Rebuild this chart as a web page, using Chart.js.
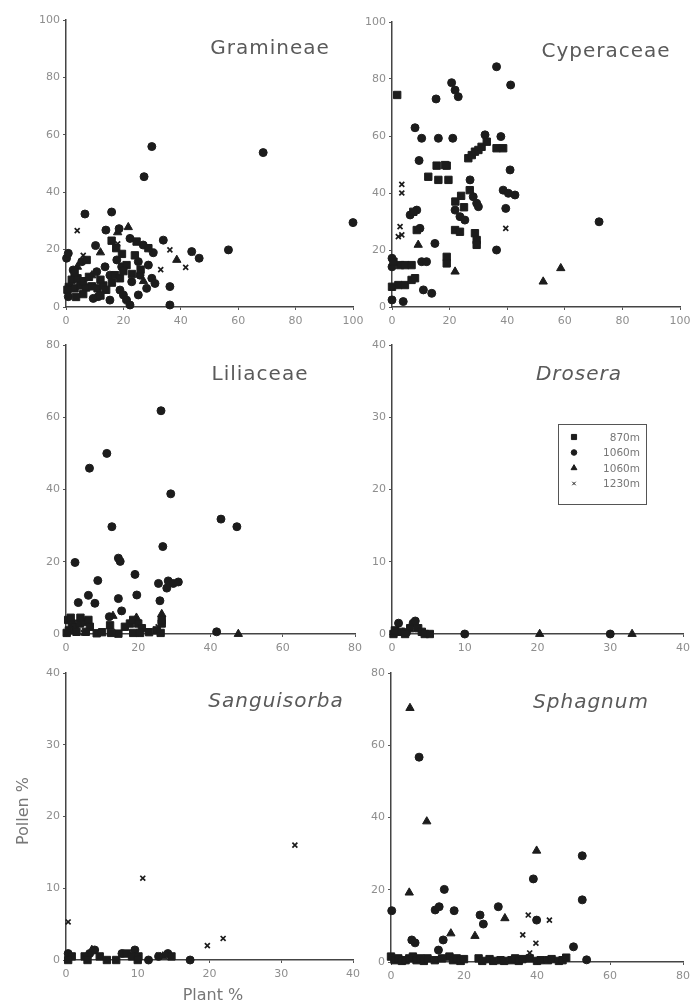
<!DOCTYPE html>
<html>
<head>
<meta charset="utf-8">
<script src="https://cdn.jsdelivr.net/npm/chart.js@4.4.1/dist/chart.umd.min.js"></script>
<style>
  html, body { margin: 0; padding: 0; background: #fff; }
  #wrap { position: relative; width: 694px; height: 1007px; overflow: hidden; }
  #wrap canvas { position: absolute; }
</style>
</head>
<body>
<div id="wrap"></div>
<script>
// series: 870m (square), 1060m (circle), 1060m (triangle), 1230m (cross)
const seriesLabels = ['870m', '1060m', '1060m', '1230m'];

// Gramineae  [plant %, pollen %]
const gramSquare = [[15.9,23.1],[17.5,20.5],[19.5,18.5],[24.6,22.8],[28.7,20.5],[21.1,14.6],[17.1,11.1],[18.8,10],[1,7],[3,6.5],[5,7.5],[7,6.8],[9,7.2],[11,6.5],[13,7.5],[2,9.5],[4,10],[6,9],[8,10.5],[12,9.5],[0.5,6],[3.5,3.5],[6,4.5],[14,6],[16,8.5],[20,12.5],[23,11.5],[12,4],[3,12],[7.2,16.4],[24,18],[26,13]];
const gramCircle = [[29.9,55.9],[27.2,45.4],[68.7,53.8],[100,29.4],[56.6,19.9],[6.6,32.4],[15.9,33.1],[13.9,26.8],[18.5,27.3],[10.3,21.4],[33.9,23.3],[30.4,18.9],[46.4,17],[36.2,7.1],[36.2,0.7],[0.2,17],[0.8,18.7],[5.5,15.8],[10.7,12.3],[17.7,16.4],[19.4,14],[25.2,15.8],[28.7,14.6],[25.8,11.1],[29.9,10],[31,8.2],[28.1,6.5],[25.2,4.2],[15.3,2.4],[9.5,3],[11.2,3.6],[18.8,5.9],[20,4.2],[21.1,2.4],[22.3,0.7],[2.5,12.9],[0.8,3.6],[15.3,11.1],[22.9,8.8],[13.6,14],[22.3,23.9],[26.9,21.6],[43.8,19.3]];
const gramTriangle = [[21.7,27.8],[38.6,16.4],[18,26],[12,19],[4,14],[9,11],[27,9]];
const gramCross = [[3.9,26.6],[36.2,19.9],[41.7,13.8],[44,18.9],[18,22],[33,13],[6,18]];

// Cyperaceae
const cypSquare = [[1.8,74.4],[15.5,49.6],[19,49.6],[12.6,45.7],[16.1,44.6],[19.6,44.6],[26.5,52.2],[27.7,53.3],[28.8,54.5],[30,55.1],[31.1,56.2],[32.9,58],[36.3,55.7],[38.6,55.7],[7.4,33.4],[8.6,27],[21.9,27],[23.6,26.4],[28.8,25.9],[29.4,23.5],[29.4,21.8],[2.8,14.7],[4.5,14.7],[6.8,14.7],[19,17.6],[19,15.3],[0,7.1],[2.2,7.7],[4.5,7.7],[6.8,9.5],[8,10.1],[0.5,15.9],[22,37],[24,39],[25,35],[27,41],[18.4,49.8]];
const cypCircle = [[36.3,84.3],[41.2,77.9],[20.7,78.7],[21.9,76.1],[23,73.8],[15.3,73],[8,62.9],[10.3,59.2],[16.1,59.2],[21.1,59.2],[32.3,60.4],[37.8,59.8],[9.4,51.4],[41,48.1],[27.1,44.6],[38.6,41],[40.4,39.9],[42.7,39.3],[39.5,34.6],[36.3,20],[71.9,29.9],[14.9,22.3],[10.3,15.9],[12,15.9],[0,17.1],[0,14.1],[10.9,6],[13.8,4.8],[0,2.5],[3.9,1.9],[6.3,32.3],[8.6,34],[21.9,34],[23.6,31.7],[25.3,30.5],[28.2,38.7],[29.4,36.4],[30,35.2],[9.7,27.6]];
const cypTriangle = [[9.1,21.8],[21.9,12.4],[52.5,8.9],[58.6,13.6]];
const cypCross = [[3.4,40],[3.4,43],[2.8,28.2],[3.4,25.3],[39.5,27.6],[2.2,24.7]];

// Liliaceae
const lilSquare = [[0.6,3.9],[1.6,2.9],[2.5,2],[3.9,2.9],[5.3,3.4],[6.2,3.9],[6.6,2],[0.8,1],[2.9,0.6],[5.5,0.6],[8.5,0.2],[12.2,2.4],[12.5,0.3],[14.5,0.1],[16.3,2],[17.7,2.9],[18.6,3.9],[18.6,0.3],[20,2.9],[21,1.6],[25.1,1],[26.5,2.9],[26.5,3.9],[26.2,0.3],[0.2,0.3],[1.3,4.5],[4,4.5],[10,0.5],[20.5,0.3],[23,0.5]];
const lilCircle = [[26.3,61.8],[11.3,50],[6.5,45.9],[29,38.8],[42.9,31.8],[47.3,29.7],[12.7,29.7],[26.8,24.2],[2.5,19.8],[14.5,21],[15,20.1],[19.1,16.5],[8.8,14.8],[25.6,14],[28.3,14.7],[29.7,14],[31.1,14.4],[27.9,12.7],[3.4,8.7],[6.2,10.7],[8,8.5],[14.5,9.8],[19.6,10.8],[26,9.2],[15.4,6.4],[12,4.8],[41.7,0.6]];
const lilTriangle = [[47.7,0],[26.5,5.5],[13,5],[19.5,4.5]];
const lilCross = [[25.5,2],[4.8,0.3]];

// Drosera
const droSquare = [[0.2,0],[0.4,0.5],[1.3,0.3],[2.5,0.8],[3.6,0.8],[4.1,0.3],[4.5,0],[5.2,0],[1.8,0]];
const droCircle = [[0.9,1.5],[2.9,1.5],[3.2,1.8],[10,0],[30,0],[2,0.2]];
const droTriangle = [[20.3,0],[33,0],[1.5,0.2]];
const droCross = [[2.6,1],[0.5,0.1]];

// Sanguisorba
const sanSquare = [[0.8,0.5],[2.6,0.5],[4.7,0.5],[5.7,0],[8.5,0.9],[9.2,0.5],[10.1,0.5],[14.7,0.5],[0.3,0],[3,0],[7,0],[10,0]];
const sanCircle = [[0.3,0.9],[3.3,0.9],[4,1.4],[7.8,0.9],[9.6,1.4],[14.2,0.9],[12.9,0.5],[17.3,0],[11.5,0]];
const sanTriangle = [[3.6,1.4],[13.5,0.5]];
const sanCross = [[31.9,16],[10.7,11.4],[19.7,2],[21.9,3],[0.3,5.3],[12.9,0.7]];

// Sphagnum
const sphSquare = [[0,1.5],[1,0.5],[2,1],[3,0.3],[4,0.5],[5,1],[6,1.5],[7,0.5],[8,1],[9,0.3],[10,1],[16,1.5],[17,0.5],[18,1],[19,0.3],[20,0.8],[24,1],[25,0.3],[27,0.8],[28,0.3],[30,0.5],[31,0.3],[33,0.5],[34,1],[35,0.3],[36,0.8],[40,0.3],[41,0.5],[43,0.5],[44,0.8],[46,0.3],[47,0.5],[48,1.2],[12,0.5],[14,1],[38,1]];
const sphCircle = [[7.7,56.7],[52.4,29.4],[39,23],[52.4,17.2],[14.6,20.1],[0.2,14.2],[12.1,14.4],[13.2,15.3],[17.3,14.2],[29.4,15.3],[24.4,13],[25.3,10.5],[39.9,11.6],[14.3,6.1],[5.7,6.1],[6.6,5.3],[50,4.2],[53.6,0.6],[13,3.3],[42,83.7]];
const sphTriangle = [[5.2,70.3],[9.8,38.9],[39.9,30.8],[5,19.2],[31.2,12.1],[16.4,7.9],[23,7.2]];
const sphCross = [[37.6,13],[43.4,11.6],[36.1,7.5],[39.7,5.2],[38,2.5]];

const pointStyles = ['rect', 'circle', 'triangle', 'crossRot'];
const pointRadii = [5.2, 4, 4.8, 3.5];
const ink = '#1c1c1c';

// box = canvas [left, top, width, height]; area = chart area [left, top, right, bottom] in page px
const panels = [
  { title: 'Gramineae', italic: false, sets: [gramSquare, gramCircle, gramTriangle, gramCross], max: 100, step: 20,
    box: [0, 0, 372, 330], area: [66, 20, 353, 307], t: [204, 29] },
  { title: 'Cyperaceae', italic: false, sets: [cypSquare, cypCircle, cypTriangle, cypCross], max: 100, step: 20,
    box: [362, 0, 332, 330], area: [392, 22, 680, 307], t: [214, 30] },
  { title: 'Liliaceae', italic: false, sets: [lilSquare, lilCircle, lilTriangle, lilCross], max: 80, step: 20,
    box: [0, 330, 372, 330], area: [66, 345, 355, 634], t: [194, 30] },
  { title: 'Drosera', italic: true, sets: [droSquare, droCircle, droTriangle, droCross], max: 40, step: 10,
    box: [362, 330, 332, 330], area: [392, 345, 683, 634], t: [187, 30], legend: true },
  { title: 'Sanguisorba', italic: true, sets: [sanSquare, sanCircle, sanTriangle, sanCross], max: 40, step: 10,
    box: [0, 660, 372, 347], area: [66, 673, 353, 960], t: [210, 29], axisTitles: true },
  { title: 'Sphagnum', italic: true, sets: [sphSquare, sphCircle, sphTriangle, sphCross], max: 80, step: 20,
    box: [362, 645, 332, 362], area: [391, 673, 683, 962], t: [200, 30] }
];

const panelText = {
  id: 'panelText',
  afterDatasetsDraw(chart, args, o) {
    const ctx = chart.ctx, a = chart.chartArea;
    ctx.save();
    ctx.fillStyle = '#5a5a5a';
    ctx.font = (o.italic ? 'italic ' : '') + '20px "DejaVu Sans"';
    ctx.textAlign = 'center';
    ctx.textBaseline = 'middle';
    ctx.letterSpacing = '1px';
    ctx.fillText(o.text, a.left + o.dx, a.top + o.dy);
    ctx.letterSpacing = '0px';

    if (o.legend) {
      const x0 = a.left + 166, y0 = a.top + 79;
      ctx.strokeStyle = '#555';
      ctx.lineWidth = 1;
      ctx.strokeRect(x0 + 0.5, y0 + 0.5, 88, 80);
      ctx.font = '10.5px "DejaVu Sans"';
      ctx.textAlign = 'right';
      chart.data.datasets.forEach((ds, i) => {
        const y = y0 + 13 + i * 15.5;
        ctx.fillStyle = ink;
        ctx.strokeStyle = ink;
        Chart.helpers.drawPoint(ctx, { pointStyle: ds.pointStyle, radius: ds.pointRadius * 0.7, rotation: 0, borderWidth: ds.borderWidth }, x0 + 16, y);
        ctx.fillStyle = '#777';
        ctx.fillText(ds.label, x0 + 82, y + 1);
      });
    }

    if (o.axisTitles) {
      ctx.fillStyle = '#777';
      ctx.font = '16px "DejaVu Sans"';
      ctx.textAlign = 'center';
      ctx.fillText('Plant %', 213, 336);
      ctx.translate(24, 151);
      ctx.rotate(-Math.PI / 2);
      ctx.fillText('Pollen %', 0, 0);
    }
    ctx.restore();
  }
};

function axis(max, step, size, isX) {
  return {
    type: 'linear', min: 0, max: max,
    ticks: { stepSize: step, color: '#8e8e8e', font: { family: 'DejaVu Sans', size: 11 }, padding: isX ? 5 : 3, maxRotation: 0, autoSkip: false },
    grid: { drawOnChartArea: false, tickLength: 3, tickColor: '#555', lineWidth: 1 },
    border: { display: true, color: '#444', width: 1.5 },
    afterFit(s) {
      if (isX) s.height = size; else s.width = size;
      s.paddingLeft = 0; s.paddingRight = 0; s.paddingTop = 0; s.paddingBottom = 0;
    }
  };
}

const wrap = document.getElementById('wrap');
panels.forEach(p => {
  const [bl, bt, bw, bh] = p.box;
  const [al, at, ar, ab] = p.area;
  const cv = document.createElement('canvas');
  cv.width = bw; cv.height = bh;
  cv.style.left = bl + 'px'; cv.style.top = bt + 'px';
  cv.style.width = bw + 'px'; cv.style.height = bh + 'px';
  wrap.appendChild(cv);

  new Chart(cv, {
    type: 'scatter',
    data: {
      datasets: p.sets.map((pts, i) => ({
        label: seriesLabels[i],
        data: pts.map(v => ({ x: v[0], y: v[1] })),
        pointStyle: pointStyles[i],
        pointRadius: pointRadii[i],
        pointHoverRadius: pointRadii[i],
        backgroundColor: ink,
        borderColor: ink,
        borderWidth: i === 3 ? 1.7 : 1,
        clip: false
      }))
    },
    options: {
      responsive: false,
      animation: false,
      devicePixelRatio: 1,
      layout: { padding: { left: 0, top: at - bt, right: bl + bw - ar, bottom: 0 } },
      scales: {
        x: axis(p.max, p.step, bt + bh - ab, true),
        y: axis(p.max, p.step, al - bl, false)
      },
      plugins: {
        legend: { display: false },
        tooltip: { enabled: false },
        panelText: { text: p.title, italic: p.italic, dx: p.t[0], dy: p.t[1], legend: !!p.legend, axisTitles: !!p.axisTitles }
      }
    },
    plugins: [panelText]
  });
});
</script>
</body>
</html>
